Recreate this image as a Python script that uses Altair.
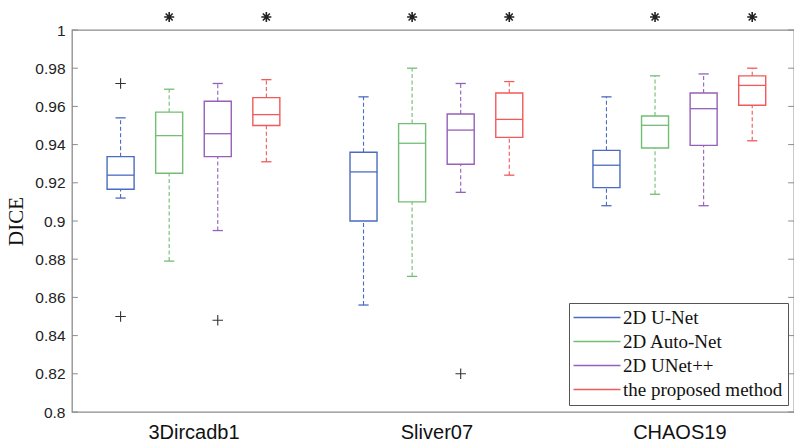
import altair as alt
import pandas as pd

groups = ["3Dircadb1", "Sliver07", "CHAOS19"]
methods = ["2D U-Net", "2D Auto-Net", "2D UNet++", "the proposed method"]
colors = ["#4a6cc0", "#74bd75", "#9560b8", "#f05a5a"]

# per box, group-major order (group 0: 4 methods, group 1: ..., group 2: ...)
upper_whisker = [0.954, 0.969, 0.972, 0.974, 0.965, 0.980, 0.972, 0.973, 0.965, 0.976, 0.977, 0.980]
q3 = [0.9337, 0.957, 0.9627, 0.9646, 0.936, 0.951, 0.956, 0.967, 0.937, 0.955, 0.967, 0.976]
median = [0.924, 0.9447, 0.9457, 0.9557, 0.9257, 0.9407, 0.9476, 0.9532, 0.9292, 0.9501, 0.9588, 0.971]
q1 = [0.9166, 0.925, 0.9337, 0.950, 0.900, 0.910, 0.9297, 0.9438, 0.9175, 0.9382, 0.9396, 0.9606]
lower_whisker = [0.912, 0.879, 0.895, 0.931, 0.856, 0.871, 0.915, 0.924, 0.908, 0.914, 0.908, 0.942]

outlier_group = ["3Dircadb1", "3Dircadb1", "3Dircadb1", "Sliver07"]
outlier_method = ["2D U-Net", "2D U-Net", "2D UNet++", "2D UNet++"]
outlier_value = [0.972, 0.850, 0.848, 0.820]

significant_methods = ["2D Auto-Net", "the proposed method"]

y_ticks = [0.8, 0.82, 0.84, 0.86, 0.88, 0.9, 0.92, 0.94, 0.96, 0.98, 1.0]

# layout helpers
GROUP_STEP = 5
X_MAX = 14.86
HALF_BOX = 0.278
HALF_CAP = 0.105
TICK_LEN = 0.12


def pos(g, m):
    return 1 + GROUP_STEP * groups.index(g) + methods.index(m)


rows = []
i = 0
for g in groups:
    for m in methods:
        p = pos(g, m)
        rows.append(dict(group=g, method=m, pos=p, xl=p - HALF_BOX, xr=p + HALF_BOX,
                         cl=p - HALF_CAP, cr=p + HALF_CAP,
                         upper=upper_whisker[i], q3=q3[i], median=median[i],
                         q1=q1[i], lower=lower_whisker[i]))
        i += 1
df = pd.DataFrame(rows)

out_df = pd.DataFrame(dict(group=outlier_group, method=outlier_method, value=outlier_value))
out_df["pos"] = [pos(g, m) for g, m in zip(outlier_group, outlier_method)]

sig_rows = [dict(pos=pos(g, m)) for g in groups for m in significant_methods]
sig_df = pd.DataFrame(sig_rows)

tick_df = pd.DataFrame(dict(v=y_ticks))
tick_df["l0"] = 0.0
tick_df["l1"] = TICK_LEN
tick_df["r0"] = X_MAX - TICK_LEN
tick_df["r1"] = X_MAX

xscale = alt.Scale(domain=[0, X_MAX], nice=False, zero=False)
yscale = alt.Scale(domain=[0.8, 1.0], nice=False, zero=False)
color_scale = alt.Scale(domain=methods, range=colors)

label_expr = " : ".join(
    [f"datum.value == {1.5 + GROUP_STEP * k + 1} ? '{g}'" for k, g in enumerate(groups)]
) + " : ''"

x_axis = alt.Axis(values=[2.5 + GROUP_STEP * k for k in range(len(groups))], labelExpr=label_expr,
                  title=None, ticks=False, grid=False, domain=False, labelFont="Liberation Sans",
                  labelFontSize=20, labelColor="#111111", labelPadding=10, labelOverlap=False,
                  labelBaseline="top")
y_axis = alt.Axis(values=y_ticks, format=".2~f", title="DICE", titleFont="Liberation Serif",
                  titleFontSize=21, titleFontWeight="normal", titleColor="#111111", titlePadding=8,
                  ticks=False, grid=False, domain=False, labelFont="Liberation Sans",
                  labelFontSize=15.5, labelColor="#222222", labelPadding=7, labelOverlap=False,
                  labelBound=False, labelFlush=False)

legend = alt.Legend(
    title=None, orient="none", legendX=497, legendY=273,
    symbolType="M-2,0L7.4,0", symbolSize=100, symbolStrokeWidth=1.3, symbolFillColor="transparent",
    labelFont="Liberation Serif", labelFontSize=19,
    labelColor="#111111", labelOffset=30, rowPadding=4, padding=5, fillColor="white",
    strokeColor="#555555", labelLimit=300)

stroke_enc = alt.Stroke("method:N", scale=color_scale, legend=legend)


def X(field):
    return alt.X(field, scale=xscale, axis=x_axis)


def Y(field):
    return alt.Y(field, scale=yscale, axis=y_axis)


base = alt.Chart(df)

whisker_hi = base.mark_rule(strokeDash=[4, 2.5], strokeWidth=1.1).encode(
    x=X("pos:Q"), y=Y("q3:Q"), y2="upper:Q", stroke=stroke_enc,
)
whisker_lo = base.mark_rule(strokeDash=[4, 2.5], strokeWidth=1.1).encode(
    x=X("pos:Q"), y=Y("lower:Q"), y2="q1:Q", stroke=stroke_enc,
)
cap_hi = base.mark_rule(strokeWidth=1.3).encode(
    x=X("cl:Q"), x2="cr:Q", y=Y("upper:Q"), stroke=stroke_enc,
)
cap_lo = base.mark_rule(strokeWidth=1.3).encode(
    x=X("cl:Q"), x2="cr:Q", y=Y("lower:Q"), stroke=stroke_enc,
)
boxes = base.mark_rect(fill="white", strokeWidth=1.4).encode(
    x=X("xl:Q"), x2="xr:Q", y=Y("q1:Q"), y2="q3:Q", stroke=stroke_enc,
)
medians = base.mark_rule(strokeWidth=1.3).encode(
    x=X("xl:Q"), x2="xr:Q", y=Y("median:Q"), stroke=stroke_enc,
)
outliers = alt.Chart(out_df).mark_point(
    shape="M-1,0L1,0M0,-1L0,1", filled=False, stroke="#333333", strokeWidth=1.1, size=110, opacity=1
).encode(
    x=X("pos:Q"), y=Y("value:Q"),
)
stars = alt.Chart(sig_df).mark_point(
    shape="M-1,0L1,0M0,-1L0,1M-0.7,-0.7L0.7,0.7M-0.7,0.7L0.7,-0.7",
    filled=False, stroke="#222222", strokeWidth=1.6, size=100, opacity=1
).encode(
    x=X("pos:Q"), y=alt.value(-13),
)
ticks_l = alt.Chart(tick_df).mark_rule(stroke="#8c8c8c", strokeWidth=1).encode(
    x=X("l0:Q"), x2="l1:Q", y=Y("v:Q")
)
ticks_r = alt.Chart(tick_df).mark_rule(stroke="#8c8c8c", strokeWidth=1).encode(
    x=X("r0:Q"), x2="r1:Q", y=Y("v:Q")
)

chart = alt.layer(
    whisker_hi, ticks_l, ticks_r, whisker_lo, cap_hi, cap_lo, boxes, medians, outliers, stars
).properties(
    width=722, height=382,
    autosize=alt.AutoSizeParams(type="none"),
    padding={"left": 72, "top": 30, "right": 0, "bottom": 30},
    background="white",
).configure_view(
    stroke="#8c8c8c", strokeWidth=1.3
)

chart.save("out.html", embed_options={"renderer": "svg", "actions": False})
